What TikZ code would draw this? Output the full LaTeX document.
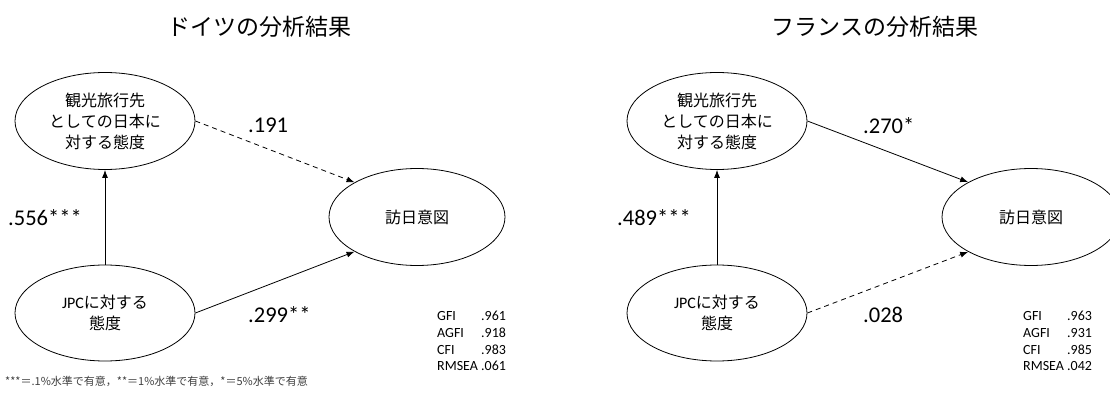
\documentclass[tikz,border=0pt]{standalone}
\usepackage{fontspec}
\setmainfont{Carlito}
\newfontfamily\jp{Noto Sans CJK JP}
\usetikzlibrary{shapes.geometric,arrows.meta}
\begin{document}
\begin{tikzpicture}[x=1pt,y=-1pt,
  latent/.style={ellipse,draw,line width=0.8pt,inner sep=0pt,minimum width=180pt,minimum height=97pt,align=center,font=\jp\fontsize{16}{21}\selectfont},
  sig/.style={line width=0.8pt,-{Latex[length=8pt,width=6pt]}},
  nsig/.style={sig,dash pattern=on 5pt off 4pt},
  coef/.style={anchor=west,inner sep=0pt,font=\fontsize{22.5}{27}\selectfont},
  paneltitle/.style={font=\jp\fontsize{23}{28}\selectfont,inner sep=0pt},
  fitstat/.style={anchor=north west,inner sep=0pt,font=\fontsize{14}{16.7}\selectfont}]
\useasboundingbox (0,0) rectangle (1110,414);
\clip (0,0) rectangle (1110,414);
\fill[white] (0,0) rectangle (1110,414);
% Germany
\node[paneltitle] (tG) at (259,27) {ドイツの分析結果};
\node[latent] (aG) at (105,121) {観光旅行先\\としての日本に\\対する態度};
\node[latent,minimum height=96pt] (jG) at (105,313) {{\rmfamily JPC}に対する\\態度};
\node[latent,minimum width=176pt] (vG) at (417,217) {訪日意図};
\draw[sig] (jG) -- (aG);
\draw[nsig] (aG.east) -- (vG.151);
\draw[sig] (jG.east) -- (vG.209);
\node[coef] (cG1) at (248,125) {.191};
\node[coef] (cG2) at (8,218) {.556***};
\node[coef] (cG3) at (248,315) {.299**};
\node[fitstat] (fG) at (437,309) {\begin{tabular}{@{}l@{\ }l@{}}GFI & .961\\AGFI & .918\\CFI & .983\\RMSEA & .061\end{tabular}};
% France
\node[paneltitle] (tF) at (875,27) {フランスの分析結果};
\node[latent] (aF) at (717,121) {観光旅行先\\としての日本に\\対する態度};
\node[latent,minimum height=96pt] (jF) at (717,313) {{\rmfamily JPC}に対する\\態度};
\node[latent,minimum width=178pt] (vF) at (1031,217) {訪日意図};
\draw[sig] (jF) -- (aF);
\draw[sig] (aF.east) -- (vF.151);
\draw[nsig] (jF.east) -- (vF.209);
\node[coef] (cF1) at (863,126) {.270*};
\node[coef] (cF2) at (617,218) {.489***};
\node[coef] (cF3) at (863,315) {.028};
\node[fitstat] (fF) at (1023,309) {\begin{tabular}{@{}l@{\ }l@{}}GFI & .963\\AGFI & .931\\CFI & .985\\RMSEA & .042\end{tabular}};
% footnote
\node[anchor=west,inner sep=0pt,font=\jp\fontsize{11}{13}\selectfont,text=black!75] (note) at (5,381) {***＝.1\%水準で有意，**＝1\%水準で有意，*＝5\%水準で有意};
\end{tikzpicture}
\end{document}
